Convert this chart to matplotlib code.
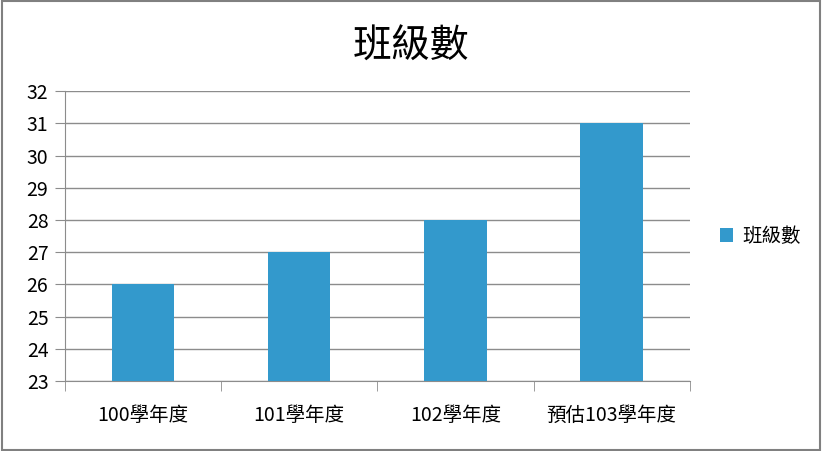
import matplotlib.pyplot as plt
from matplotlib.patches import Rectangle

plt.rcParams['font.family'] = ['Noto Sans CJK TC', 'DejaVu Sans']

categories = ['100學年度', '101學年度', '102學年度', '預估103學年度']
class_counts = [26, 27, 28, 31]
series_name = '班級數'

bar_color = '#3399CC'
line_color = '#8C8C8C'

fig = plt.figure(figsize=(8.23, 4.51), dpi=100)
ax = fig.add_axes([0.079, 0.155, 0.759, 0.643])

x = list(range(len(categories)))
ax.bar(x, class_counts, width=0.4, color=bar_color, label=series_name, zorder=3)

ax.set_ylim(23, 32)
ax.set_yticks(range(23, 33))
ax.set_xlim(-0.5, len(categories) - 0.5)
ax.yaxis.grid(True, color=line_color, linewidth=1, zorder=0)

# category labels centred, tick marks on the boundaries
ax.set_xticks(x)
ax.set_xticklabels(categories, fontsize=14)
ax.set_xticks([i - 0.5 for i in range(len(categories) + 1)], minor=True)
ax.tick_params(axis='x', which='major', length=0, pad=17)
ax.tick_params(axis='x', which='minor', length=7, color=line_color, direction='out')
ax.tick_params(axis='y', length=7, color=line_color, labelsize=14, pad=5)

for side in ['top', 'right']:
    ax.spines[side].set_visible(False)
for side in ['left', 'bottom']:
    ax.spines[side].set_color(line_color)

fig.suptitle(series_name, fontsize=28, x=0.5, y=0.94)

ax.legend(loc='center left', bbox_to_anchor=(1.02, 0.5), frameon=False,
          fontsize=14, handlelength=0.7, handleheight=0.7, handletextpad=0.45)

# figure border
fig.patches.append(Rectangle((0.002, 0.003), 0.994, 0.994, transform=fig.transFigure,
                             fill=False, edgecolor='#808080', linewidth=1.5))

fig.savefig('out.png', dpi=100)
